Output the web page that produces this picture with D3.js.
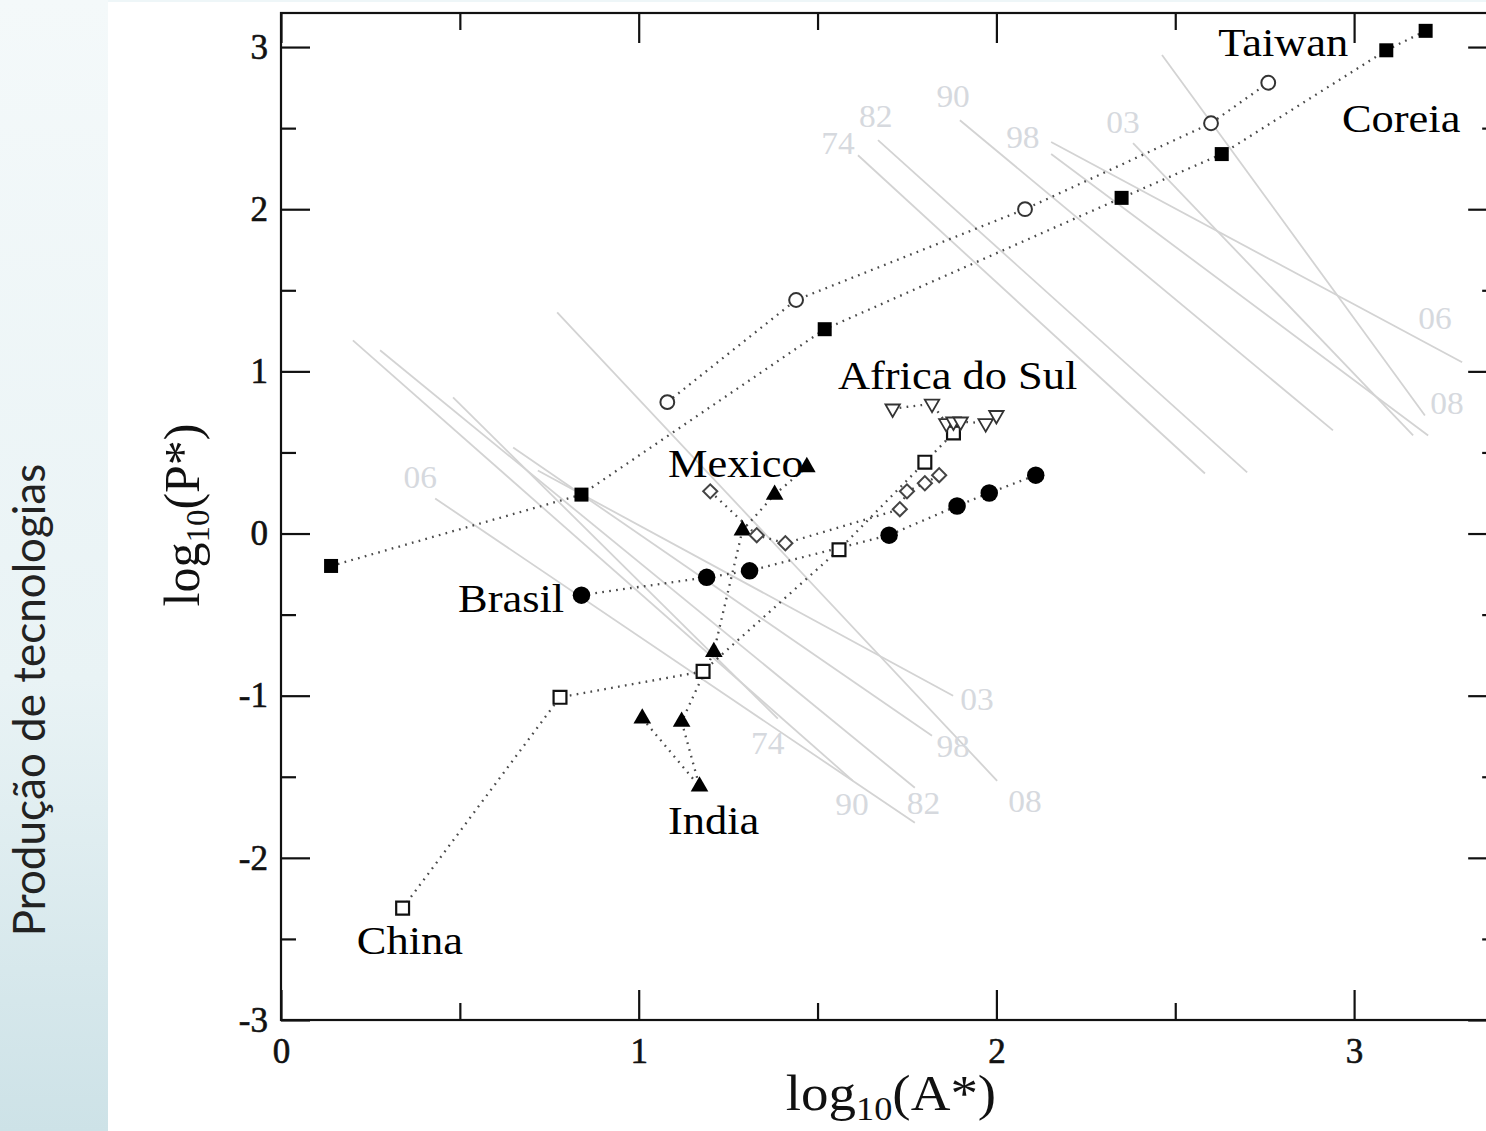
<!DOCTYPE html>
<html>
<head>
<meta charset="utf-8">
<script src="https://cdn.jsdelivr.net/npm/d3@7"></script>
<style>
body { margin: 0; background: #fff; }
</style>
</head>
<body>
<script>
// data (log10 values)
var coreia = [[0.14,-0.20],[0.84,0.24],[1.52,1.26],[2.35,2.07],[2.63,2.34],[3.09,2.98],[3.20,3.10]];
var taiwan = [[1.08,0.81],[1.44,1.44],[2.08,2.00],[2.60,2.53],[2.76,2.78]];
var brasil = [[0.84,-0.38],[1.19,-0.27],[1.31,-0.23],[1.70,-0.01],[1.89,0.17],[1.98,0.25],[2.11,0.36]];
var china = [[0.34,-2.31],[0.78,-1.01],[1.18,-0.85],[1.56,-0.10],[1.80,0.44],[1.88,0.62]];
var india = [[1.01,-1.14],[1.17,-1.56],[1.12,-1.16],[1.21,-0.73],[1.29,0.02],[1.38,0.24],[1.47,0.41]];
var mexico = [[1.20,0.26],[1.33,-0.01],[1.41,-0.06],[1.73,0.15],[1.75,0.26],[1.80,0.31],[1.84,0.36]];
var africa = [[1.71,0.77],[1.82,0.80],[1.86,0.68],[1.88,0.69],[1.90,0.69],[1.97,0.68],[2.00,0.73]];

var years = ["74","82","90","98","03","06","08"];
// iso lines [x1,y1,x2,y2] and label spot, one per year
var isoUpper = [[1.613,2.333,2.583,0.370],[1.669,2.426,2.701,0.377],[1.898,2.549,2.941,0.636],
  [2.153,2.340,3.207,0.605],[2.382,2.407,3.165,0.605],[2.153,2.414,3.302,1.056],[2.463,2.951,3.198,0.728]];
var isoUpperLab = [[1.557,2.407],[1.663,2.574],[1.879,2.698],[2.074,2.444],[2.354,2.537],[3.226,1.327],[3.260,0.802]];
var isoLower = [[0.481,0.840,1.389,-1.142],[0.277,1.130,1.772,-1.568],[0.201,1.191,1.599,-1.525],
  [0.649,0.531,1.820,-1.247],[0.718,0.389,1.879,-1.000],[0.431,0.216,1.772,-1.784],[0.772,1.364,2.002,-1.525]];
var isoLowerLab = [[1.361,-1.290],[1.796,-1.660],[1.596,-1.667],[1.879,-1.309],[1.946,-1.019],[0.389,0.346],[2.080,-1.648]];

var countryNames = ["Taiwan","Coreia","Africa do Sul","Mexico","Brasil","India","China"];
var countryLab = [[2.620,2.944],[2.966,2.475],[1.557,0.889],[1.082,0.346],[0.495,-0.481],[1.082,-1.852],[0.212,-2.593]];

var xMajor = [0,1,2,3], xMinor = [0.5,1.5,2.5];
var yMajor = [-3,-2,-1,0,1,2,3], yMinor = [-2.5,-1.5,-0.5,0.5,1.5,2.5];

var W = 1486, H = 1131;
var svg = d3.select("body").append("svg").attr("width", W).attr("height", H);

var grad = svg.append("defs").append("linearGradient").attr("id", "side")
  .attr("x1", 0).attr("y1", 0).attr("x2", 0).attr("y2", 1);
grad.append("stop").attr("offset", "0%").attr("stop-color", "#f4f9fa");
grad.append("stop").attr("offset", "60%").attr("stop-color", "#e9f3f5");
grad.append("stop").attr("offset", "100%").attr("stop-color", "#cde2e7");
svg.append("rect").attr("width", 108).attr("height", H).attr("fill", "url(#side)");
svg.append("rect").attr("x", 108).attr("width", W - 108).attr("height", 2).attr("fill", "#eef6f8");

svg.append("text")
  .attr("transform", "translate(45,700) rotate(-90)")
  .attr("text-anchor", "middle")
  .style("font-family", "Lato, 'Open Sans', sans-serif")
  .style("font-size", "44px")
  .attr("fill", "#222")
  .text("Produção de tecnologias");

var x = d3.scaleLinear().domain([0, 3.4]).range([281, 281 + 3.4 * 357.7]);
var y = d3.scaleLinear().domain([-3, 3.21]).range([1020, 13]);

var x0 = x.range()[0], x1 = x.range()[1], y0 = y.range()[0], y1 = y.range()[1];
var serif = "'Liberation Serif', 'Times New Roman', serif";

// iso lines
var iso = svg.append("g").attr("stroke", "#d3d3d3").attr("stroke-width", 1.8);
function isoLines(rows) {
  iso.selectAll(null).data(rows).enter().append("line")
    .attr("x1", function(d) { return x(d[0]); })
    .attr("y1", function(d) { return y(d[1]); })
    .attr("x2", function(d) { return x(d[2]); })
    .attr("y2", function(d) { return y(d[3]); });
}
isoLines(isoUpper);
isoLines(isoLower);

function isoLabels(rows) {
  svg.append("g").selectAll("text").data(rows).enter().append("text")
    .attr("transform", function(d) { return "translate(" + x(d[0]) + "," + y(d[1]) + ") scale(1.08,1)"; })
    .attr("dy", "0.35em")
    .attr("text-anchor", "middle")
    .style("font-family", serif).style("font-size", "31px")
    .attr("fill", "#d6d9de")
    .text(function(d, i) { return years[i]; });
}
isoLabels(isoUpperLab);
isoLabels(isoLowerLab);

// dotted paths
var line = d3.line().x(function(d) { return x(d[0]); }).y(function(d) { return y(d[1]); });
[coreia, taiwan, brasil, china, india, mexico, africa].forEach(function(s) {
  svg.append("path").attr("d", line(s))
    .attr("fill", "none").attr("stroke", "#4a4a4a")
    .attr("stroke-width", 2.3).attr("stroke-dasharray", "1.7,5.3")
    .attr("stroke-linecap", "butt");
});

function markers(s, type, size, fill, stroke, sw, rot) {
  svg.append("g").selectAll("path").data(s).enter().append("path")
    .attr("d", d3.symbol().type(type).size(size))
    .attr("transform", function(d) { return "translate(" + x(d[0]) + "," + y(d[1]) + ") rotate(" + rot + ")"; })
    .attr("fill", fill).attr("stroke", stroke).attr("stroke-width", sw);
}
markers(coreia, d3.symbolSquare, 196, "#000", "none", 0, 0);
markers(taiwan, d3.symbolCircle, 150, "#fff", "#333", 2, 0);
markers(brasil, d3.symbolCircle, 240, "#000", "none", 0, 0);
markers(china, d3.symbolSquare, 165, "#fff", "#111", 2.2, 0);
markers(india, d3.symbolTriangle, 135, "#000", "none", 0, 0);
markers(mexico, d3.symbolSquare, 100, "#fff", "#444", 2, 45);
markers(africa, d3.symbolTriangle, 90, "#fff", "#333", 1.8, 180);

// country names
svg.append("g").selectAll("text").data(countryLab).enter().append("text")
  .attr("transform", function(d) { return "translate(" + x(d[0]) + "," + y(d[1]) + ") scale(1.14,1)"; })
  .style("font-family", serif).style("font-size", "39px")
  .attr("fill", "#000")
  .text(function(d, i) { return countryNames[i]; });

// frame and ticks
svg.append("rect").attr("x", x0).attr("y", y1).attr("width", x1 - x0).attr("height", y0 - y1)
  .attr("fill", "none").attr("stroke", "#111").attr("stroke-width", 2.2);

function axis(gen, tr, vals, len, labels) {
  var a = svg.append("g").attr("transform", tr)
    .call(gen.tickValues(vals).tickSizeInner(-len).tickSizeOuter(0).tickPadding(labels ? 13 : 0)
      .tickFormat(labels ? function(d) { return d; } : ""));
  a.select(".domain").remove();
  a.selectAll("line").attr("stroke", "#111").attr("stroke-width", 2.2);
  a.selectAll("text").style("font-family", serif).style("font-size", "35px")
    .attr("fill", "#111").attr("stroke", "#111").attr("stroke-width", 0.6);
  return a;
}
axis(d3.axisLeft(y), "translate(" + x0 + ",0)", yMajor, 29, true);
axis(d3.axisLeft(y), "translate(" + x0 + ",0)", yMinor, 15, false);
axis(d3.axisRight(y), "translate(" + x1 + ",0)", yMajor, 29, false);
axis(d3.axisRight(y), "translate(" + x1 + ",0)", yMinor, 15, false);
var xb = axis(d3.axisBottom(x), "translate(0," + y0 + ")", xMajor, 30, true);
xb.selectAll("text").attr("dy", "0.85em");
axis(d3.axisBottom(x), "translate(0," + y0 + ")", xMinor, 17, false);
axis(d3.axisTop(x), "translate(0," + y1 + ")", xMajor, 30, false);
axis(d3.axisTop(x), "translate(0," + y1 + ")", xMinor, 17, false);

// axis titles
var xt = svg.append("text").attr("transform", "translate(891,1110) scale(1.1,1)").attr("text-anchor", "middle")
  .style("font-family", serif).style("font-size", "50px").attr("fill", "#111");
xt.append("tspan").text("log");
xt.append("tspan").attr("dy", "0.3em").style("font-size", "33px").text("10");
xt.append("tspan").attr("dy", "-0.2em").text("(A*)");

var yt = svg.append("text").attr("transform", "translate(199,515) rotate(-90)").attr("text-anchor", "middle")
  .style("font-family", serif).style("font-size", "50px").attr("fill", "#111");
yt.append("tspan").text("log");
yt.append("tspan").attr("dy", "0.3em").style("font-size", "33px").text("10");
yt.append("tspan").attr("dy", "-0.2em").text("(P*)");
</script>
</body>
</html>
